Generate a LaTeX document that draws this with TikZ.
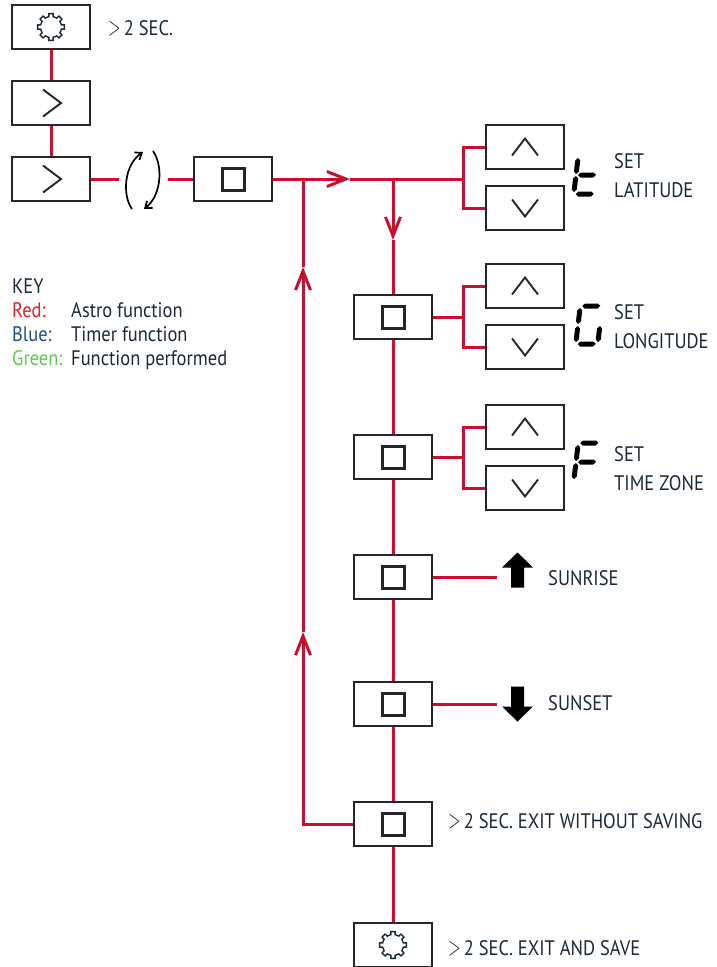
\documentclass[tikz,border=0pt]{standalone}
\usepackage{fontspec}
\setmainfont[FakeStretch=0.88]{PT Sans}
\usetikzlibrary{arrows.meta}
\definecolor{astro}{RGB}{200,16,46}
\definecolor{ink}{RGB}{26,40,56}
\definecolor{keyred}{RGB}{232,28,36}
\definecolor{keyblue}{RGB}{28,78,140}
\definecolor{keygreen}{RGB}{96,200,80}
\newcommand{\hold}{\scalebox{0.8}[1.3]{$>$}\kern3pt}
\tikzset{
	btn/.style={draw=black!85, line width=1.7, minimum width=78, minimum height=44, inner sep=0},
	sqbtn/.style={btn, path picture={\draw[line width=3] ([shift={(-11,-11)}]path picture bounding box.center) rectangle ++(22,22);}},
	nextbtn/.style={btn, path picture={\draw[line width=1.9] ([shift={(-8,-13.5)}]path picture bounding box.center) -- ++(18,13.5) -- ++(-18,13.5);}},
	upbtn/.style={btn, path picture={\draw[line width=1.9] ([shift={(-13,8.5)}]path picture bounding box.center) -- ++(13,-17) -- ++(13,17);}},
	dnbtn/.style={btn, path picture={\draw[line width=1.9] ([shift={(-13,-8.5)}]path picture bounding box.center) -- ++(13,17) -- ++(13,-17);}},
	gearbtn/.style={btn, path picture={\draw[ink, line width=1.4, shift={(path picture bounding box.center)}] (-12:10.5)
		\foreach \a in {0,45,...,315}{ -- (\a-9:13.5) -- (\a+9:13.5) -- (\a+12:10.5) -- (\a+22.5:10.5) -- (\a+33:10.5)} -- cycle;}},
	wire/.style={astro, line width=3},
	barb/.style={-{Straight Barb[length=19pt, width=15pt]}},
	txt/.style={text=ink, font=\fontsize{21}{29}\selectfont, inner sep=0, anchor=base west},
	spacer/.style={minimum width=#1, minimum height=36, inner sep=0},
	seg a/.style={insert path={(-9,-19) -- (-6.5,-21.5) -- (6.5,-21.5) -- (9,-19) -- (6.5,-16.5) -- (-6.5,-16.5) -- cycle}},
	seg b/.style={insert path={(11,-17) -- (13.5,-14.5) -- (13.5,-3.5) -- (11,-1) -- (8.5,-3.5) -- (8.5,-14.5) -- cycle}},
	seg c/.style={insert path={(11,1) -- (13.5,3.5) -- (13.5,14.5) -- (11,17) -- (8.5,14.5) -- (8.5,3.5) -- cycle}},
	seg d/.style={insert path={(-9,19) -- (-6.5,16.5) -- (6.5,16.5) -- (9,19) -- (6.5,21.5) -- (-6.5,21.5) -- cycle}},
	seg e/.style={insert path={(-11,1) -- (-8.5,3.5) -- (-8.5,14.5) -- (-11,17) -- (-13.5,14.5) -- (-13.5,3.5) -- cycle}},
	seg f/.style={insert path={(-11,-17) -- (-8.5,-14.5) -- (-8.5,-3.5) -- (-11,-1) -- (-13.5,-3.5) -- (-13.5,-14.5) -- cycle}},
	seg g/.style={insert path={(-9,0) -- (-6.5,-2.5) -- (6.5,-2.5) -- (9,0) -- (6.5,2.5) -- (-6.5,2.5) -- cycle}}
}
\newcommand{\segdigit}[2]{
	\begin{scope}[shift={#1}, xslant=0.12]
		\foreach \s in {#2}{\fill[seg \s];}
	\end{scope}
}
\begin{document}
\begin{tikzpicture}[x=1pt, y=-1pt]
	\useasboundingbox (0,0) rectangle (716,967);
	\node[gearbtn] (gear) at (51,27) {};
	\node[nextbtn] (nxt1) at (51,103) {};
	\node[nextbtn] (nxt2) at (51,179) {};
	\node[spacer=49] (rot) at (143.5,179) {};
	\node[sqbtn] (sq0) at (233,179) {};
	\node[upbtn] (up0) at (525,147) {};
	\node[dnbtn] (dn0) at (525,208) {};
	\node[sqbtn] (sqA) at (393,317) {};
	\node[upbtn] (upA) at (525,286) {};
	\node[dnbtn] (dnA) at (525,347) {};
	\node[sqbtn] (sqB) at (393,457) {};
	\node[upbtn] (upB) at (525,427) {};
	\node[dnbtn] (dnB) at (525,488) {};
	\node[sqbtn] (sqC) at (393,577) {};
	\node[spacer=41] (rise) at (517.5,570) {};
	\node[sqbtn] (sqD) at (393,704) {};
	\node[spacer=41] (set) at (517.5,704) {};
	\node[sqbtn] (sqE) at (393,824) {};
	\node[gearbtn] (gearE) at (393,945) {};
	\coordinate (jL) at (303,179);
	\coordinate (jR) at (393,179);
	\coordinate (tipR) at (350,179);
	\coordinate (br0) at (463,179);
	\coordinate (tipD) at (393,240);
	\coordinate (tipU1) at (303,267);
	\coordinate (tipU2) at (303,632);

	\path[wire]
		(gear) edge (nxt1)
		(nxt1) edge (nxt2)
		(nxt2) edge (rot)
		(rot) edge (sq0)
		(tipD) edge (sqA)
		(sqA) edge (sqB)
		(sqB) edge (sqC)
		(sqC) edge (sqD)
		(sqD) edge (sqE)
		(sqE) edge (gearE)
		(sqD) edge (set);
	\draw[wire] (sq0) -- (jL);
	\draw[wire, barb] (jL) -- (tipR);
	\draw[wire] (tipR) -- (br0);
	\draw[wire] (up0.west) -| (br0) |- (dn0.west);
	\draw[wire, barb] (jR) -- (tipD);
	\draw[wire] (sqA.east) -- (sqA.east -| br0) coordinate (brA);
	\draw[wire] (upA.west) -| (brA) |- (dnA.west);
	\draw[wire] (sqB.east) -- (sqB.east -| br0) coordinate (brB);
	\draw[wire] (upB.west) -| (brB) |- (dnB.west);
	\draw[wire] (sqC.east) -- (sqC.east -| rise.west);
	\draw[wire, barb] (sqE.west) -| (tipU2);
	\draw[wire, barb] (tipU2) -- (tipU1);
	\draw[wire] (tipU1) -- (jL);

	\begin{scope}[shift={(rot.center)}, line width=1.7, -{Straight Barb[length=6pt, width=9pt]}]
		\draw (-11.5,30) .. controls (-21.5,16) and (-19.5,-14) .. (-0.5,-27);
		\draw (9.5,-28) .. controls (19.5,-14) and (18.5,16) .. (0.5,30);
	\end{scope}
	\fill[shift={(rise.center)}] (0,-17.5) -- (15.5,-2.5) -- (6.5,-2.5) -- (6.5,17.5) -- (-6.5,17.5) -- (-6.5,-2.5) -- (-15.5,-2.5) -- cycle;
	\fill[shift={(set.center)}] (0,17.5) -- (15.5,2.5) -- (6.5,2.5) -- (6.5,-17.5) -- (-6.5,-17.5) -- (-6.5,2.5) -- (-15.5,2.5) -- cycle;
	\segdigit{(587,175)}{f,e,g,d}
	\segdigit{(589,325)}{a,f,e,d,c}
	\segdigit{(587,462)}{a,f,e,g}

	\node[txt] (hold) at (108,35) {\hold 2 SEC.};
	\node[txt, align=left] (lat) at (614,197) {SET\\LATITUDE};
	\node[txt, align=left] (lon) at (614,348) {SET\\LONGITUDE};
	\node[txt, align=left] (zone) at (614,490) {SET\\TIME ZONE};
	\node[txt] (sunrise) at (548,585) {SUNRISE};
	\node[txt] (sunset) at (548,710) {SUNSET};
	\node[txt] (nosave) at (448,828) {\hold 2 SEC. EXIT WITHOUT SAVING};
	\node[txt] (save) at (448,955) {\hold 2 SEC. EXIT AND SAVE};
	\node[txt] (key) at (12,293) {KEY};
	\node[txt, text=keyred] (kred) at (12,317) {Red:};
	\node[txt, text=keyblue] (kblue) at (12,341) {Blue:};
	\node[txt, text=keygreen] (kgreen) at (12,365) {Green:};
	\node[txt] (astro) at (71,317) {Astro function};
	\node[txt] (timer) at (71,341) {Timer function};
	\node[txt] (done) at (71,365) {Function performed};
\end{tikzpicture}
\end{document}
